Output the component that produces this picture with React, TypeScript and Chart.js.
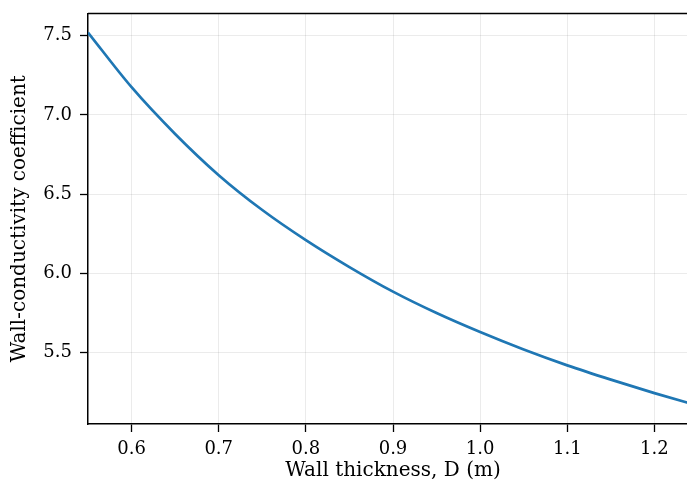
import React, { useEffect, useRef } from "react";
import { Chart, registerables } from "chart.js";

Chart.register(...registerables);

// Wall thickness D (m) and the resulting wall-conductivity coefficient
const thickness = [0.55, 0.6, 0.65, 0.7, 0.75, 0.8, 0.85, 0.9, 0.95, 1.0, 1.05, 1.1, 1.15, 1.2, 1.25];
const coefficient = [7.52, 7.175, 6.88, 6.62, 6.40, 6.21, 6.04, 5.885, 5.75, 5.63, 5.52, 5.42, 5.33, 5.245, 5.165];

const xTicks = [0.6, 0.7, 0.8, 0.9, 1.0, 1.1, 1.2];
const yTicks = [5.5, 6.0, 6.5, 7.0, 7.5];

const FONT = "'DejaVu Serif', serif";

// Draws the upper frame line across the plot area
const topSpine = {
  id: "topSpine",
  afterDraw(chart: any) {
    const { ctx, chartArea } = chart;
    ctx.save();
    ctx.strokeStyle = "#000";
    ctx.lineWidth = 1.5;
    ctx.beginPath();
    ctx.moveTo(chartArea.left, chartArea.top);
    ctx.lineTo(chartArea.right, chartArea.top);
    ctx.stroke();
    ctx.restore();
  },
};

export default function App() {
  const ref = useRef<HTMLCanvasElement | null>(null);

  useEffect(() => {
    if (!ref.current) return;
    const chart = new Chart(ref.current, {
      type: "line",
      data: {
        datasets: [
          {
            data: thickness.map((d, i) => ({ x: d, y: coefficient[i] })),
            borderColor: "#1f77b4",
            borderWidth: 2.7,
            pointRadius: 0,
            cubicInterpolationMode: "monotone",
            fill: false,
          },
        ],
      },
      options: {
        animation: false,
        responsive: false,
        maintainAspectRatio: false,
        layout: { padding: { top: 13.5, right: 0, left: 0, bottom: 0 } },
        plugins: { legend: { display: false }, tooltip: { enabled: false } },
        scales: {
          x: {
            type: "linear",
            min: 0.55,
            max: 1.25,
            afterBuildTicks: (axis: any) => {
              axis.ticks = xTicks.map((v) => ({ value: v }));
            },
            afterFit: (axis: any) => {
              axis.height = 60;
              axis.paddingLeft = 0;
              axis.paddingRight = 0;
            },
            ticks: {
              color: "#000",
              font: { family: FONT, size: 18 },
              padding: 7,
              maxRotation: 0,
              callback: (v: any) => Number(v).toFixed(1),
            },
            grid: {
              color: "rgba(0,0,0,0.08)",
              lineWidth: 1,
              tickColor: "#000",
              tickLength: 8,
              tickWidth: 1.3,
            },
            border: { display: true, color: "#000", width: 1.5 },
            title: {
              display: true,
              text: "Wall thickness, D (m)",
              color: "#000",
              font: { family: FONT, size: 20 },
              padding: { top: 0, bottom: 1 },
            },
          },
          y: {
            type: "linear",
            min: 5.05,
            max: 7.64,
            afterBuildTicks: (axis: any) => {
              axis.ticks = yTicks.map((v) => ({ value: v }));
            },
            afterFit: (axis: any) => {
              axis.width = 88;
              axis.paddingTop = 0;
              axis.paddingBottom = 0;
            },
            ticks: {
              color: "#000",
              font: { family: FONT, size: 18 },
              padding: 8,
              callback: (v: any) => Number(v).toFixed(1),
            },
            grid: {
              color: "rgba(0,0,0,0.08)",
              lineWidth: 1,
              tickColor: "#000",
              tickLength: 8,
              tickWidth: 1.3,
            },
            border: { display: true, color: "#000", width: 1.5 },
            title: {
              display: true,
              text: "Wall-conductivity coefficient",
              color: "#000",
              font: { family: FONT, size: 20 },
              padding: { top: 8, bottom: 0 },
            },
          },
        },
      },
      plugins: [topSpine],
    });
    return () => chart.destroy();
  }, []);

  return (
    <div style={{ position: "absolute", left: 0, top: 0, width: 687, height: 484, overflow: "hidden", background: "#fff" }}>
      <canvas ref={ref} width={698} height={484} style={{ display: "block", width: 698, height: 484 }} />
    </div>
  );
}
